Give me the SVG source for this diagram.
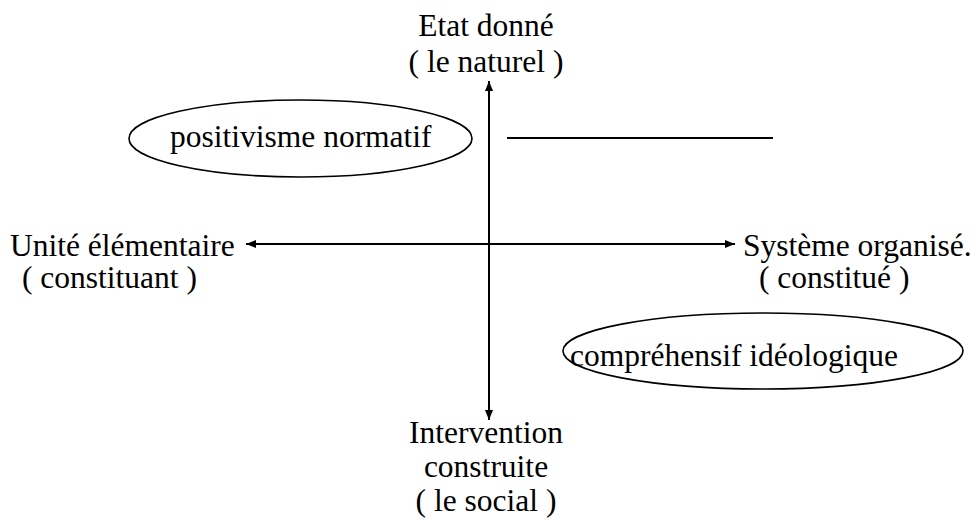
<svg xmlns="http://www.w3.org/2000/svg" width="976" height="520" viewBox="0 0 976 520">
<style>
.t{font-family:'Liberation Serif','Times New Roman',Times,'DejaVu Serif',serif;font-size:31.5px;fill:#000}
.ln{stroke:#000;stroke-width:2;fill:none}
.el{stroke:#000;stroke-width:1.6;fill:none}
</style>
<defs>
<marker id="ah" viewBox="0 0 10 8" refX="10" refY="4" markerWidth="10" markerHeight="8" markerUnits="userSpaceOnUse" orient="auto-start-reverse">
<path d="M0,0 L10,4 L0,8 Z" fill="#000"/>
</marker>
</defs>
<g id="connectors">
<line class="ln" x1="489" y1="420" x2="489" y2="81" marker-start="url(#ah)" marker-end="url(#ah)"/>
<line class="ln" x1="246" y1="244" x2="735" y2="244" marker-start="url(#ah)" marker-end="url(#ah)"/>
<line class="ln" x1="507" y1="138" x2="773" y2="138"/>
</g>
<g id="top" font-family="Liberation Serif, serif">
<text class="t" x="486" y="36" text-anchor="middle">Etat donné</text>
<text class="t" x="486" y="72" text-anchor="middle">( le naturel )</text>
</g>
<g id="bottom">
<text class="t" x="486" y="443" text-anchor="middle">Intervention</text>
<text class="t" x="486" y="477" text-anchor="middle">construite</text>
<text class="t" x="486" y="511" text-anchor="middle">( le social )</text>
</g>
<g id="left">
<text class="t" x="10" y="256">Unité élémentaire</text>
<text class="t" x="22" y="288">( constituant )</text>
</g>
<g id="right">
<text class="t" x="743" y="256">Système organisé.</text>
<text class="t" x="759" y="288">( constitué )</text>
</g>
<g id="positivisme">
<ellipse class="el" cx="300.5" cy="138.5" rx="171.5" ry="38.5"/>
<text class="t" x="170" y="147">positivisme normatif</text>
</g>
<g id="comprehensif">
<ellipse class="el" cx="763" cy="351" rx="200" ry="38"/>
<text class="t" x="570" y="366">compréhensif idéologique</text>
</g>
</svg>
